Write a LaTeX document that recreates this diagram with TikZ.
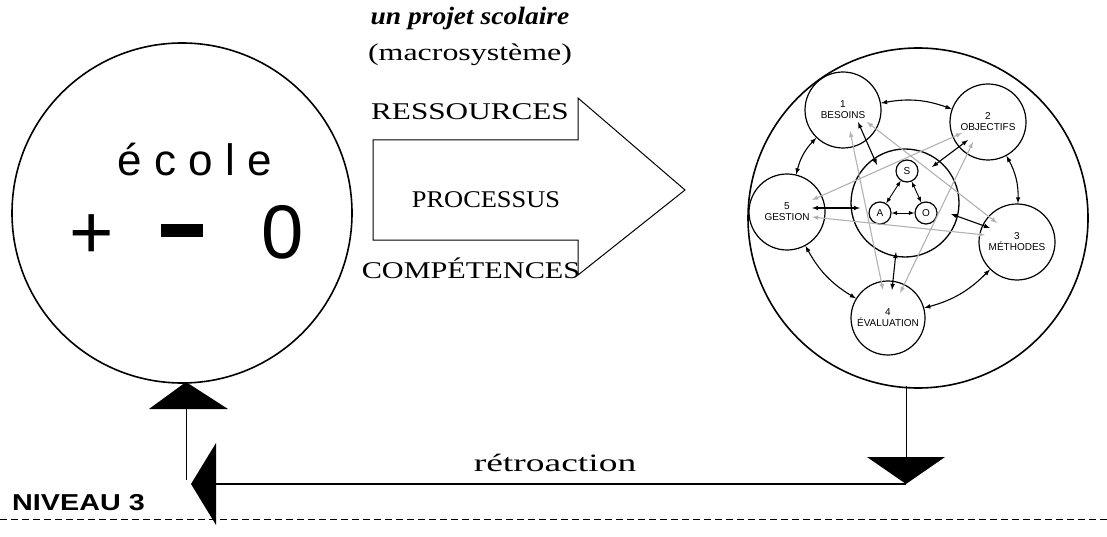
\documentclass[tikz,border=0pt]{standalone}
\usepackage{fontspec}
\setmainfont{Liberation Serif}
\setsansfont{Liberation Sans}
\begin{document}
\begin{tikzpicture}[x=1pt,y=-1pt,
  circ/.style={draw,line width=1.6pt,circle,inner sep=0pt},
  sm/.style={circ,line width=1.2pt,align=center,font=\sffamily\fontsize{10}{11}\selectfont},
  blk/.style={<->,>={latex},line width=1.1pt},
  gry/.style={<->,>={latex},line width=1.1pt,gray!60}]
\useasboundingbox (0,0) rectangle (1107,537);
% left circle
\node[circ,minimum size=340pt] (ecole) at (182,213) {};
\node[font=\sffamily\fontsize{44}{44}\selectfont] (et) at (195,160) {é c o l e};
\node[font=\sffamily\fontsize{76}{76}\selectfont] (pm) at (187,232) {+\,\, \rule[0.28em]{0.55em}{0.17em}\,\,\, 0};
% title
\node[font=\fontsize{25}{25}\selectfont\bfseries\itshape] (t1) at (470,18) {\scalebox{1.1}[1]{un projet scolaire}};
\node[font=\fontsize{24}{24}\selectfont] (t2) at (470,55) {\scalebox{1.33}[1]{(macrosystème)}};
% big arrow
\draw[line width=1pt,fill=white] (373,140) -- (578,140) -- (578,98) -- (685,190) -- (578,275) -- (578,240) -- (373,240) -- cycle;
\node[font=\fontsize{24}{24}\selectfont,inner sep=1pt] (r1) at (470,112) {\scalebox{1.3}[1]{RESSOURCES}};
\node[font=\fontsize{24}{24}\selectfont] (r2) at (486,200) {\scalebox{1.1}[1]{PROCESSUS}};
\node[font=\fontsize{24}{24}\selectfont,inner sep=1pt] (r3) at (471,268) {\scalebox{1.26}[1]{COMPÉTENCES}};
% right circle
\node[circ,minimum size=340pt] (sys) at (918,218) {};
\node[circ,line width=1.3pt,minimum size=108pt] (c) at (905,203) {};
\node[sm,minimum size=76pt] (n1) at (843,110) {1\\BESOINS};
\node[sm,minimum size=76pt] (n2) at (988,122) {2\\OBJECTIFS};
\node[sm,minimum size=76pt] (n3) at (1017,242) {3\\MÉTHODES};
\node[sm,minimum size=74pt] (n4) at (888,318) {4\\ÉVALUATION};
\node[sm,minimum size=76pt] (n5) at (787,212) {5\\GESTION};
\node[sm,minimum size=22pt] (S) at (907,171) {S};
\node[sm,minimum size=22pt] (A) at (880,213) {A};
\node[sm,minimum size=22pt] (O) at (926,213) {O};
\draw[blk,line width=0.9pt] (S) -- (A);
\draw[blk,line width=0.9pt] (S) -- (O);
\draw[blk,line width=0.9pt] (A) -- (O);
% gray star
\draw[gry] (850,131) -- (883,290);
\draw[gry] (867,122) -- (997,223);
\draw[gry] (962,133) -- (812,200);
\draw[gry] (973,142) -- (900,293);
\draw[gry] (812,217) -- (985,235);
% black ring
\draw[blk] (n1) to[bend left=15] (n2);
\draw[blk] (n2) to[bend left=15] (n3);
\draw[blk] (n3) to[bend left=15] (n4);
\draw[blk] (n4) to[bend left=15] (n5);
\draw[blk] (n5) to[bend left=15] (n1);
% to center
\draw[blk] (858,122) -- (877,165);
\draw[blk] (968,140) -- (932,167);
\draw[blk] (951,214) -- (990,228);
\draw[blk] (896,252) -- (892,290);
\draw[blk] (812,208) -- (860,208);
% feedback
\coordinate (dtop) at (906,386);
\coordinate (d0) at (906,457);
\coordinate (d1) at (906,484);
\coordinate (l0) at (216,484);
\coordinate (u0) at (186,480);
\coordinate (u1) at (186,409);
\draw[line width=1pt] (dtop) -- (d0);
\fill (867,457) -- (945,457) -- (d1) -- cycle;
\draw[line width=1.6pt] (d1) -- (l0);
\fill (191,484) -- (216,443) -- (216,525) -- cycle;
\draw[line width=1pt] (u0) -- (u1);
\fill (149,409) -- (228,409) -- (186,382) -- cycle;
\node[font=\fontsize{25}{25}\selectfont] (rt) at (555,463) {\scalebox{1.5}[1]{rétroaction}};
\node[font=\sffamily\bfseries\fontsize{23}{23}\selectfont,anchor=west,inner sep=0pt] (nv) at (12,503) {\scalebox{1.25}[1]{NIVEAU 3}};
\coordinate (da) at (0,519);
\coordinate (db) at (1107,519);
\draw[dashed,line width=1pt,dash pattern=on 7pt off 4pt] (da) -- (db);
\end{tikzpicture}
\end{document}
